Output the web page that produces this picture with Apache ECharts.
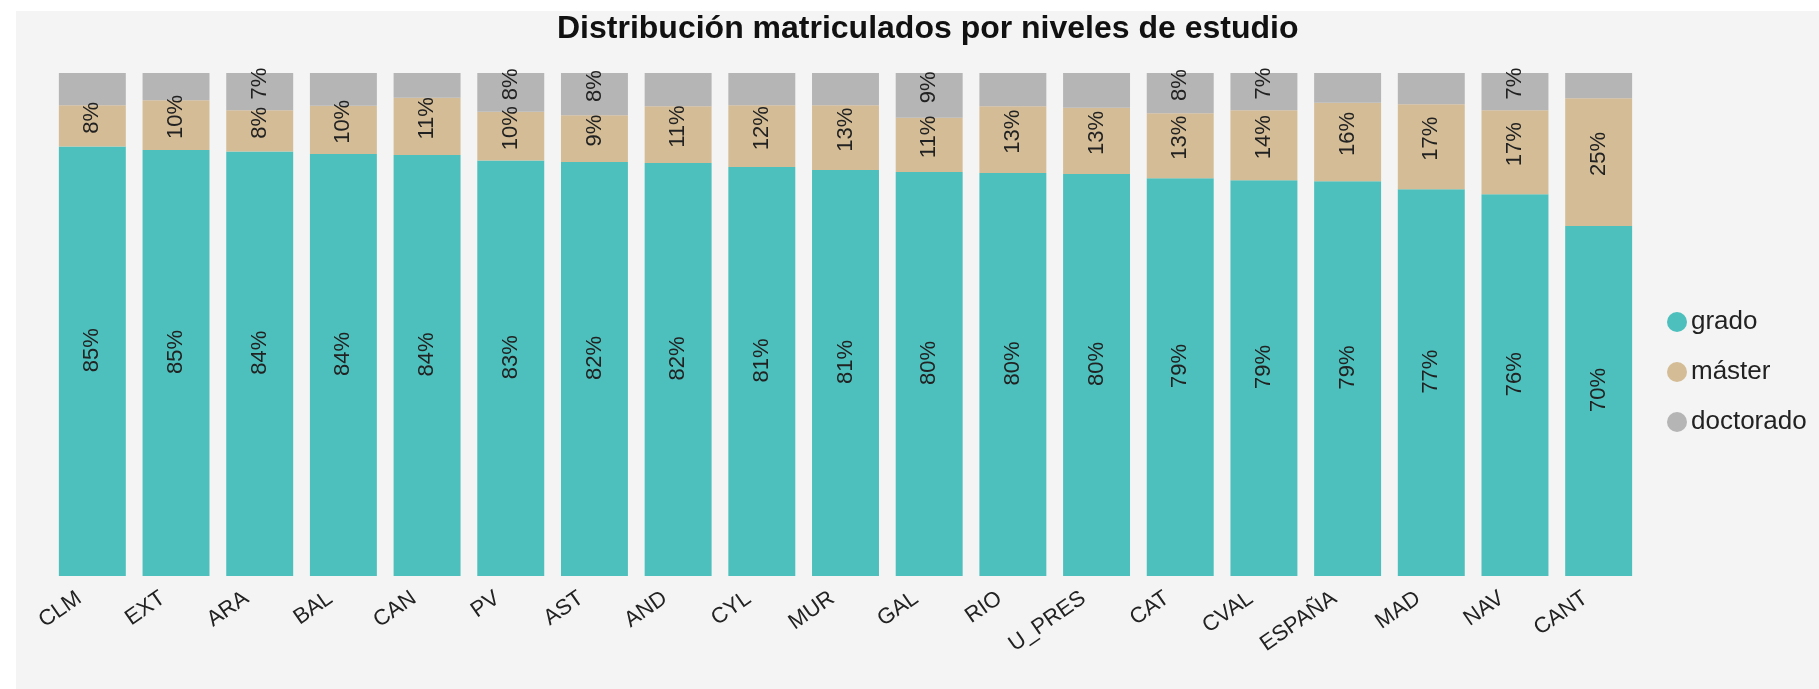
<!DOCTYPE html>
<html>
<head>
<meta charset="utf-8">
<title>Distribución matriculados por niveles de estudio</title>
<script src="https://cdn.jsdelivr.net/npm/echarts@6/dist/echarts.min.js"></script>
<style>
  html, body { margin: 0; padding: 0; background: #fff; }
  #chart { position: absolute; left: 16px; top: 11px; width: 1803px; height: 678px; }
</style>
</head>
<body>
<div id="chart"></div>
<script>
const FONT = '"Liberation Sans", Arial, sans-serif';

// comunidades, ordenadas por % de grado
const regiones = ['CLM', 'EXT', 'ARA', 'BAL', 'CAN', 'PV', 'AST', 'AND', 'CYL', 'MUR',
  'GAL', 'RIO', 'U_PRES', 'CAT', 'CVAL', 'ESPAÑA', 'MAD', 'NAV', 'CANT'];

// porcentaje de matriculados por nivel
const grado = [85.4, 84.7, 84.4, 83.9, 83.7, 82.6, 82.3, 82.1, 81.3, 80.7,
  80.3, 80.1, 79.9, 79.1, 78.7, 78.5, 76.9, 75.9, 69.6];
const master = [8.2, 9.9, 8.2, 9.6, 11.4, 9.7, 9.3, 11.3, 12.3, 12.9,
  10.8, 13.3, 13.2, 12.9, 13.9, 15.6, 16.9, 16.7, 25.4];
const doctorado = [6.4, 5.4, 7.4, 6.5, 4.9, 7.7, 8.4, 6.6, 6.4, 6.4,
  8.9, 6.6, 6.9, 8.0, 7.4, 5.9, 6.2, 7.4, 5.0];

const COLORS = {
  grado: '#4dc0bd',
  master: '#d4bd96',
  doctorado: '#b5b5b5',
};

const chart = echarts.init(document.getElementById('chart'));

// el offset va en el marco girado: x positivo sube la etiqueta
function barLabel(minValue, lift) {
  return {
    show: true,
    position: 'inside',
    rotate: 90,
    offset: [lift, 0],
    fontFamily: FONT,
    fontSize: 22,
    color: '#222',
    formatter: (p) => (p.value < minValue ? '' : `${Math.round(p.value)}%`),
  };
}

function serie(name, data, color, minValue, lift) {
  return {
    name,
    type: 'bar',
    stack: 'total',
    data,
    barCategoryGap: '20%',
    itemStyle: { color },
    label: barLabel(minValue, lift),
    emphasis: { disabled: true },
  };
}

const option = {
  backgroundColor: '#f4f4f4',
  animation: false,
  textStyle: { fontFamily: FONT },
  title: {
    text: 'Distribución matriculados por niveles de estudio',
    left: 536,
    top: -3,
    textStyle: { fontFamily: FONT, fontSize: 32, fontWeight: 'bold', color: '#111' },
  },
  legend: {
    orient: 'vertical',
    left: 1646,
    top: 293,
    icon: 'circle',
    itemWidth: 20,
    itemHeight: 20,
    itemGap: 24,
    textStyle: { fontFamily: FONT, fontSize: 26, lineHeight: 26, color: '#222', padding: [0, 0, 0, -1] },
    data: ['grado', 'máster', 'doctorado'],
  },
  grid: { left: 34.5, right: 178.5, top: 62, bottom: 113 },
  xAxis: {
    type: 'category',
    data: regiones,
    axisLine: { show: false },
    axisTick: { show: false },
    axisLabel: {
      interval: 0,
      rotate: 35,
      margin: 11,
      padding: [0, 16, 0, 0],
      fontFamily: FONT,
      fontSize: 22,
      color: '#222',
    },
  },
  yAxis: {
    type: 'value',
    min: 0,
    max: 100,
    show: false,
  },
  series: [
    serie('grado', grado, COLORS.grado, 0, 11),
    serie('máster', master, COLORS.master, 0, 8),
    serie('doctorado', doctorado, COLORS.doctorado, 7, 8),
  ],
};

chart.setOption(option);

window.addEventListener('resize', () => {
  chart.resize();
});
</script>
</body>
</html>
